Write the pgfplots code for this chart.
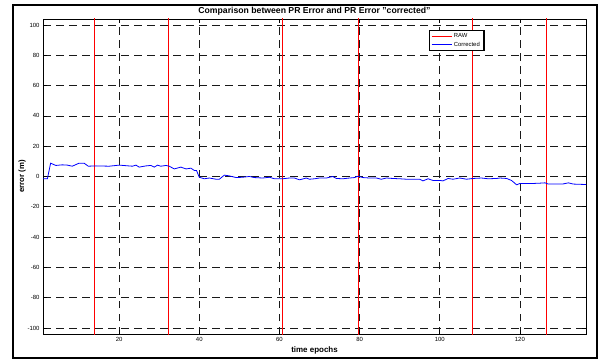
\documentclass[border=0pt]{standalone}
\usepackage{fontspec}
\setmainfont{Liberation Sans}
\usepackage{pgfplots}
\pgfplotsset{compat=1.18}
\begin{document}
\begin{tikzpicture}[x=1bp,y=1bp]
\path[use as bounding box] (0,0) rectangle (599,363);
\draw[line width=2bp] (13,5) rectangle (597,358);
\begin{axis}[
  at={(43bp,29bp)}, anchor=south west,
  scale only axis, width=543bp, height=315bp,
  xmin=1, xmax=136.5, ymin=-104, ymax=104,
  xtick={20,40,...,120}, ytick={-100,-80,...,100},
  /pgf/number format/assume math mode=true,
  ticklabel style={font=\fontsize{6}{7}\selectfont},
  tick align=inside, tick pos=both, major tick length=4bp,
  tick style={black, line width=0.6bp},
  axis line style={line width=0.9bp},
  grid=major,
  major grid style={black!90, line width=0.6bp, dash pattern=on 7.5bp off 5.5bp},
  every axis title shift=0pt,
  title={Comparison between PR Error and PR Error "corrected"},
  title style={at={(rel axis cs:0.5,1)}, anchor=base, yshift=5bp, inner sep=0pt, font=\fontsize{8.7}{10}\selectfont\bfseries},
  xlabel={time epochs},
  xlabel style={at={(rel axis cs:0.5,0)}, anchor=base, yshift=-18bp, inner sep=0pt, font=\fontsize{8}{9}\selectfont\bfseries},
  ylabel={error (m)},
  ylabel style={at={(rel axis cs:0,0.5)}, anchor=center, yshift=21bp, inner sep=0pt, font=\fontsize{7.8}{9}\selectfont\bfseries},
  legend style={name=leg, at={(rel axis cs:0.711,0.963)}, anchor=north west, draw=none, fill=white, font=\fontsize{5.9}{6.5}\selectfont, inner xsep=2bp, inner ysep=1bp, row sep=-1.5bp},
  legend cell align=left,
  legend image code/.code={\draw[#1, line width=0.7bp] (0bp,0bp) -- (20bp,0bp);},
]
\addplot[red, line width=0.7bp] coordinates {
(13.8,300) (13.8,-300) (32.4,-300) (32.4,300) (60.8,300) (60.8,-300)
(79.7,-300) (79.7,300) (108.1,300) (108.1,-300) (126.7,-300) (126.7,300)
};
\addlegendentry{RAW}
\addplot[blue, line width=0.8bp] coordinates {
(1,-1.5) (2.1,-1.5) (2.9,8.8) (4.2,7.3) (5.8,7.7) (7.1,7.5) (8.3,6.8) (10,8.8) (11.25,8.8) (12.3,6.8)
(14.2,7) (17.5,6.8) (20,7.5) (23.3,6.8) (24.2,7.5) (25,6.2) (26.7,7) (27.9,7.3) (28.75,6.2) (29.6,7.5)
(30.4,6.8) (31.7,7.3) (32.5,6.8) (33.75,5) (35.4,6.2) (36.7,5) (37.9,5.5) (38.75,4) (39.3,4) (40,-0.5)
(41.25,-1.5) (42.5,-1) (44.2,-1.8) (45,-1.8) (46.25,0.9) (47.5,0.4) (49.2,-0.7) (50.8,-0.5) (52.5,0) (53.75,-0.7)
(55.8,-1) (57.5,-0.5) (58.75,-1.5) (60.8,-1.5) (62.5,-1) (63.75,-1) (65,-2.2) (66.7,-1) (67.5,-1.8) (68.75,-1.5)
(70,-1) (71.7,-1) (73.3,0) (74.2,-1.3) (75.8,-1.5) (77.5,-1) (78.75,-0.7) (79.6,0.2) (80.8,-0.7) (82.5,-1)
(84.2,-1) (85.4,-1.8) (86.7,-1) (88.3,-1.3) (90,-1.5) (91.7,-1.8) (93.3,-1.8) (95,-1.8) (95.8,-2.9) (97.1,-1.5)
(98.3,-2.6) (100,-2.6) (100.8,-2.9) (102.1,-1.3) (103.3,-1.8) (105,-1) (106.7,-1.8) (108.3,-1.3) (110.4,-1) (112.1,-1.5)
(114.2,-1.3) (115,-1) (116.7,-1.3) (117.9,-2.6) (119.2,-5.5) (120,-4.6) (121.7,-4.6) (123.3,-4.6) (125,-4.4) (126.25,-4.2)
(127.1,-5) (129.2,-4.9) (130.8,-4.9) (132.1,-4.2) (133.3,-5) (136.5,-5.3)
};
\addlegendentry{Corrected}
\end{axis}
\draw[line width=1.1bp] (leg.south west) rectangle (leg.north east);
\end{tikzpicture}
\end{document}
